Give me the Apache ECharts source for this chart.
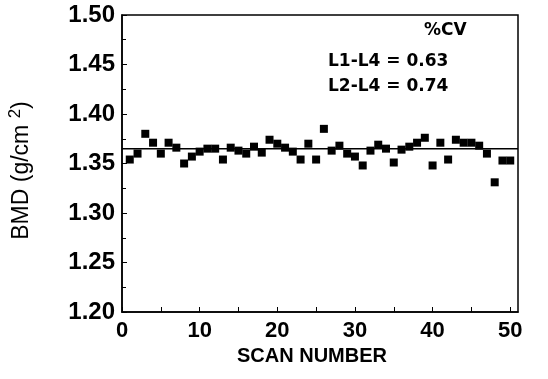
<!DOCTYPE html>
<html>
<head>
<meta charset="utf-8">
<script src="https://cdn.jsdelivr.net/npm/echarts@6/dist/echarts.min.js"></script>
<style>
  html, body { margin: 0; padding: 0; background: #fff; }
  #chart { width: 548px; height: 379px; }
</style>
</head>
<body>
<div id="chart"></div>
<script>
// scan number vs BMD (g/cm2)
const scans = [1,2,3,4,5,6,7,8,9,10,11,12,13,14,15,16,17,18,19,20,21,22,23,24,25,
               26,27,28,29,30,31,32,33,34,35,36,37,38,39,40,41,42,43,44,45,46,47,48,49,50];
const bmd = [1.354,1.360,1.380,1.371,1.360,1.371,1.366,1.350,1.357,1.362,
             1.365,1.365,1.354,1.366,1.363,1.360,1.367,1.361,1.374,1.370,
             1.366,1.362,1.354,1.370,1.354,1.385,1.363,1.368,1.360,1.357,
             1.348,1.363,1.369,1.365,1.351,1.364,1.367,1.371,1.376,1.348,
             1.371,1.354,1.374,1.371,1.371,1.368,1.360,1.331,1.353,1.353];
const meanBmd = 1.365;
const meanX = [0, 51];
const cvLines = ['%CV', 'L1-L4 = 0.63', 'L2-L4 = 0.74'];

const chart = echarts.init(document.getElementById('chart'));
const labelFont = { fontFamily: 'Liberation Sans', fontWeight: 'bold', color: '#000' };

chart.setOption({
    animation: false,
    grid: {
        left: 122, right: 30, top: 15, bottom: 67,
        outerBoundsMode: 'none', containLabel: false,
        show: true, borderColor: '#000', borderWidth: 1.5
    },
    xAxis: {
        type: 'value', min: 0, max: 51, interval: 5,
        name: 'SCAN NUMBER', nameLocation: 'middle', nameGap: 33,
        nameTextStyle: { ...labelFont, fontSize: 20, padding: [0, 16, 0, 0] },
        axisLine: { lineStyle: { color: '#000', width: 1.5 } },
        axisTick: { inside: true, length: 5, lineStyle: { color: '#000' } },
        splitLine: { show: false },
        axisLabel: {
            ...labelFont, fontSize: 22, margin: 8, showMaxLabel: false,
            formatter: v => (v % 10 === 0 ? String(v) : '')
        }
    },
    yAxis: {
        type: 'value', min: 1.2, max: 1.5, interval: 0.05,
        name: 'BMD (g/cm {s|2})', nameLocation: 'middle', nameGap: 86, nameRotate: 90,
        nameTextStyle: {
            fontFamily: 'Liberation Sans', fontSize: 23, color: '#000', padding: [0, 14, 0, 0],
            rich: { s: { fontFamily: 'Liberation Sans', fontSize: 17, color: '#000', verticalAlign: 'top', padding: [0, 0, 12, 0] } }
        },
        axisLine: { lineStyle: { color: '#000', width: 1.5 } },
        axisTick: { inside: true, length: 5, lineStyle: { color: '#000' } },
        minorTick: { show: true, splitNumber: 2, length: 4, lineStyle: { color: '#000' } },
        splitLine: { show: false },
        axisLabel: { ...labelFont, fontSize: 24, margin: 7, formatter: v => v.toFixed(2) }
    },
    series: [{
        type: 'line',
        data: meanX.map(x => [x, meanBmd]),
        symbol: 'none', silent: true,
        lineStyle: { color: '#000', width: 1.5 }
    }, {
        type: 'scatter',
        data: scans.map((s, i) => [s, bmd[i]]),
        symbol: 'rect', symbolSize: 8,
        itemStyle: { color: '#000', opacity: 1 }
    }],
    graphic: [
        { type: 'text', left: 424, top: 22, style: { text: cvLines[0], font: 'bold 17px "DejaVu Sans"', fill: '#000' } },
        { type: 'text', left: 328, top: 53, style: { text: cvLines[1], font: 'bold 17px "DejaVu Sans"', fill: '#000' } },
        { type: 'text', left: 328, top: 78, style: { text: cvLines[2], font: 'bold 17px "DejaVu Sans"', fill: '#000' } }
    ]
});
</script>
</body>
</html>
